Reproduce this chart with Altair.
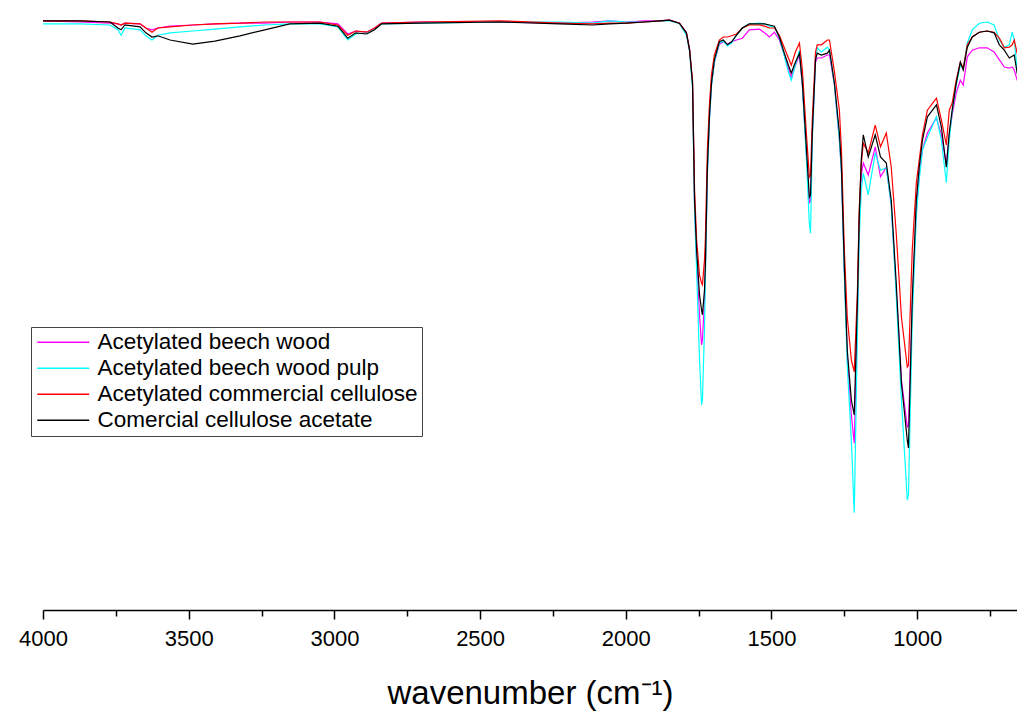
import altair as alt
import pandas as pd

# wavenumbers (cm-1)
wavenumber = [4000, 3873, 3770, 3743, 3732, 3719, 3667, 3647, 3626, 3606, 3564, 3486, 3410, 3324, 3239, 3153,
              3050, 2988, 2954, 2927, 2889, 2862, 2838, 2707, 2433, 2227, 2114, 2056, 1998, 1936, 1884, 1850,
              1816, 1792, 1781, 1771, 1764, 1757, 1747, 1740, 1737, 1730, 1727, 1720, 1713, 1706, 1696, 1679,
              1665, 1651, 1637, 1620, 1600, 1576, 1541, 1524, 1507, 1490, 1473, 1456, 1442, 1432, 1418, 1404,
              1394, 1380, 1370, 1366, 1360, 1349, 1343, 1329, 1308, 1301, 1284, 1267, 1260, 1250, 1240, 1226,
              1216, 1205, 1199, 1192, 1185, 1168, 1144, 1126, 1106, 1089, 1072, 1054, 1034, 1030, 1017, 1003,
              993, 982, 965, 934, 917, 900, 890, 880, 866, 852, 842, 828, 811, 787, 760, 736,
              718, 701, 684, 674, 667, 657, 640]

beech_wood = [98.2, 98.0, 97.8, 97.7, 97.5, 97.8, 97.7, 97.0, 96.7, 97.0, 97.3, 97.5, 97.7, 97.8, 97.8, 98.0,
              98.0, 97.7, 96.0, 96.5, 96.3, 97.0, 97.8, 98.0, 98.0, 97.8, 98.0, 98.2, 98.0, 98.2, 98.2, 98.3,
              97.8, 96.2, 93.3, 87.5, 67.5, 58.3, 49.2, 44.2, 45.0, 51.7, 56.7, 73.3, 82.0, 87.5, 91.3, 94.3,
              94.7, 94.3, 94.7, 95.0, 95.3, 96.7, 96.8, 96.2, 95.5, 96.3, 95.0, 92.5, 90.3, 88.8, 90.8, 92.5,
              87.5, 75.8, 67.8, 68.3, 79.2, 91.3, 92.0, 92.0, 92.5, 92.5, 87.5, 78.3, 73.3, 56.7, 42.5, 32.5,
              27.8, 50.0, 64.2, 72.5, 74.5, 72.5, 77.2, 72.2, 73.8, 67.5, 53.3, 38.3, 30.5, 30.8, 50.8, 66.7,
              72.5, 76.7, 79.5, 82.0, 79.2, 74.2, 79.2, 82.5, 86.2, 88.3, 87.5, 92.2, 93.3, 93.7, 93.7, 93.0,
              91.7, 90.5, 90.3, 90.5, 90.0, 88.3, 87.8]

beech_wood_pulp = [97.7, 97.7, 97.5, 96.7, 95.8, 97.0, 96.7, 95.7, 95.0, 95.8, 96.2, 96.5, 96.8, 97.2, 97.5, 97.7,
                   97.7, 97.2, 95.0, 96.0, 96.2, 96.8, 97.7, 97.8, 98.0, 98.0, 97.8, 98.2, 98.0, 98.0, 98.2, 98.2,
                   97.7, 95.8, 93.0, 87.0, 66.7, 56.7, 41.7, 34.2, 35.0, 46.7, 55.0, 72.5, 81.7, 87.3, 91.3, 94.5,
                   94.8, 94.0, 94.5, 95.8, 97.0, 97.7, 97.8, 97.7, 97.3, 97.2, 95.3, 92.3, 89.7, 88.3, 90.8, 93.3,
                   87.5, 75.0, 64.2, 62.8, 78.3, 91.7, 93.7, 93.0, 93.8, 93.3, 87.5, 78.3, 73.0, 55.8, 40.8, 28.3,
                   16.2, 46.7, 61.7, 70.0, 72.8, 69.2, 76.2, 73.3, 73.7, 67.5, 52.5, 35.0, 18.3, 19.2, 48.3, 65.8,
                   71.7, 76.7, 78.8, 82.2, 78.3, 71.2, 78.3, 83.0, 87.5, 90.8, 90.3, 94.5, 96.7, 97.8, 98.0, 97.5,
                   95.0, 93.8, 94.2, 96.3, 95.0, 90.0, 90.5]

commercial_cellulose = [98.2, 98.2, 98.0, 97.7, 97.5, 97.8, 97.7, 97.0, 96.3, 97.0, 97.2, 97.5, 97.7, 97.8, 98.0, 98.0,
                        98.0, 97.5, 95.8, 96.5, 96.3, 97.0, 97.8, 98.0, 98.2, 97.8, 97.7, 97.8, 97.8, 98.0, 98.2, 98.3,
                        97.8, 96.2, 93.3, 88.3, 70.0, 61.7, 55.8, 54.5, 54.2, 58.3, 61.7, 76.7, 84.2, 89.2, 92.5, 95.0,
                        95.5, 95.5, 95.7, 96.0, 97.0, 97.5, 97.5, 97.3, 97.0, 97.0, 95.8, 93.7, 92.0, 90.8, 93.0, 94.5,
                        90.0, 79.2, 72.2, 72.5, 81.7, 93.0, 94.2, 94.2, 95.0, 95.0, 89.7, 83.3, 76.7, 60.0, 48.8, 41.7,
                        39.7, 53.3, 66.7, 74.2, 77.8, 76.2, 80.8, 77.2, 79.5, 73.8, 62.8, 48.8, 40.5, 40.8, 60.0, 71.2,
                        75.0, 79.2, 83.3, 85.3, 81.7, 77.5, 83.3, 84.5, 88.3, 91.3, 90.3, 94.2, 95.5, 96.3, 96.5, 96.3,
                        95.3, 93.7, 93.8, 94.2, 95.0, 92.8, 90.8]

cellulose_acetate = [98.2, 98.2, 98.0, 97.0, 96.7, 97.5, 97.2, 96.2, 95.5, 95.7, 95.0, 94.3, 94.8, 95.7, 96.7, 97.7,
                     97.8, 97.3, 95.3, 96.2, 96.0, 96.7, 97.7, 97.8, 98.0, 97.7, 97.5, 97.7, 97.8, 98.0, 98.2, 98.3,
                     97.8, 96.2, 93.3, 87.8, 68.3, 60.0, 52.5, 50.0, 49.2, 53.3, 57.2, 73.8, 82.2, 87.8, 91.7, 94.7,
                     95.0, 94.2, 94.7, 95.8, 97.0, 97.7, 97.7, 97.7, 97.5, 97.3, 95.5, 92.8, 90.8, 89.5, 91.3, 92.8,
                     87.8, 76.7, 68.8, 69.2, 79.5, 91.7, 92.8, 92.5, 92.8, 93.3, 87.8, 79.5, 73.8, 57.2, 43.3, 35.0,
                     32.5, 51.7, 65.5, 75.0, 79.2, 75.5, 79.2, 75.5, 74.5, 68.3, 54.5, 37.8, 28.3, 27.0, 51.7, 68.3,
                     73.8, 78.3, 82.2, 84.2, 80.5, 73.8, 79.5, 83.3, 87.8, 91.3, 90.0, 93.8, 95.5, 96.3, 96.5, 96.2,
                     94.2, 93.3, 92.0, 92.3, 92.5, 89.5, 86.7]

series_names = ["Acetylated beech wood", "Acetylated beech wood pulp",
                "Acetylated commercial cellulose", "Comercial cellulose acetate"]
series_values = [beech_wood, beech_wood_pulp, commercial_cellulose, cellulose_acetate]
series_colors = ["#FF00FF", "#00FFFF", "#FF0000", "#000000"]

major_ticks = [4000, 3500, 3000, 2500, 2000, 1500, 1000]
minor_ticks = [3750, 3250, 2750, 2250, 1750, 1250, 750]

rows = []
for i, (name, vals) in enumerate(zip(series_names, series_values)):
    for w, v in zip(wavenumber, vals):
        rows.append({"wavenumber": w, "T": v, "sample": name, "k": i})
df = pd.DataFrame(rows)

font = "Liberation Sans"

chart = alt.Chart(df).mark_line(strokeWidth=1.2, clip=True).encode(
    x=alt.X("wavenumber:Q",
            scale=alt.Scale(domain=[4000, 657.5], nice=False, zero=False),
            axis=alt.Axis(values=major_ticks + minor_ticks,
                          labelExpr="datum.value % 500 === 0 ? datum.label : ''",
                          format="d",
                          tickSize={"condition": {"test": "datum.value % 500 === 0", "value": 9}, "value": 6},
                          labelOverlap=False, labelFlush=False, grid=False,
                          title="wavenumber (cm\u207b\u00b9)")),
    y=alt.Y("T:Q", scale=alt.Scale(domain=[0, 100], nice=False, zero=False), axis=None),
    color=alt.Color("sample:N",
                    scale=alt.Scale(domain=series_names, range=series_colors),
                    legend=alt.Legend(orient="none", legendX=-12, legendY=317, title=None,
                                      direction="vertical", strokeColor="#444444", fillColor="white",
                                      padding=4, labelFont=font, labelFontSize=22.5, labelColor="black",
                                      symbolType="M-3,0H3", symbolSize=300, symbolStrokeWidth=1.5,
                                      symbolOffset=17, labelOffset=23, rowPadding=3, labelLimit=0,
                                      cornerRadius=0)),
    order=alt.Order("k:Q"),
).properties(
    width=974, height=600,
    autosize=alt.AutoSizeParams(type="none"),
    padding={"left": 35, "top": 2, "right": 0, "bottom": 108},
).configure_view(stroke=None).configure_axis(
    domainColor="black", domainWidth=1.5, tickColor="black", tickWidth=1.5,
    labelFont=font, labelFontSize=22, labelColor="black", labelPadding=9,
    titleFont=font, titleFontSize=33, titleFontWeight="normal", titleColor="black", titlePadding=28,
)

chart.save("out.html", embed_options={"renderer": "svg", "actions": False})
